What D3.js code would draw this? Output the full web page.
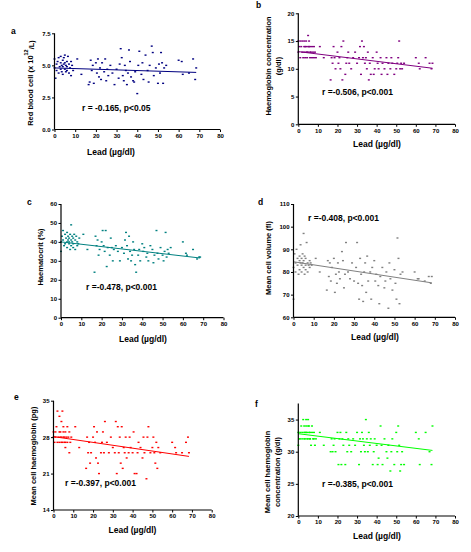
<!DOCTYPE html>
<html>
<head>
<meta charset="utf-8">
<script src="https://cdn.jsdelivr.net/npm/d3@7"></script>
<style>
  body { margin: 0; background: #fff; }
  svg { display: block; font-family: "Liberation Sans", Arial, sans-serif; }
  .tick text { font-size: 6px; font-weight: bold; fill: #000; }
  .domain, .tick line { stroke: #000; }
</style>
</head>
<body>
<svg id="fig" width="471" height="552"></svg>
<script>
// lead level of each subject (µg/dl), shared by all six panels
const lead = [
  0, 0, 0.5, 1, 1, 1.5, 2, 2, 2.5, 3, 3, 3, 3.5, 3.5, 4, 4, 4, 4.5, 4.5, 5, 5, 5, 5.5, 5.5, 6, 6, 6, 6.5, 7, 7, 7.5, 8, 8, 8.5, 9, 11,
  13, 16.5, 17, 17.5, 18, 18.5, 19, 20, 20.5, 21, 21.5, 22, 22.5, 23, 24, 24.5, 25, 25.5, 26, 27,
  28, 29, 30, 31, 31.5, 32, 32.5, 33, 33.5, 34, 34.5, 35, 35.5, 36, 36.5, 37, 38, 38.5, 39, 40,
  40.5, 41, 42, 42.5, 43, 44, 45, 45.5, 46, 47, 47.5, 48, 49, 50, 50.5, 51, 51.5, 52, 52.5, 53, 54,
  60, 61.5, 62, 65, 67, 68, 68.5
]

const rbc = [
  5.5, 4.8, 4.0, 5.1, 4.6, 5.3, 5.6, 4.4, 4.9, 5.2, 4.7, 5.7, 4.5, 5.0, 5.4, 4.9, 4.3, 5.6, 5.1, 4.7, 5.2, 5.8, 4.5, 5.0, 5.3, 4.6, 4.9, 5.7, 5.1, 4.4, 4.8, 4.2, 5.3, 5.0, 4.6, 5.5,
  4.3, 3.5, 3.7, 5.4, 4.6, 5.0, 3.6, 5.2, 4.4, 5.5, 4.1, 4.8, 3.9, 5.2, 4.5, 5.5, 3.8, 4.7, 4.2, 5.0,
  4.4, 3.5, 4.7, 4.0, 5.1, 6.3, 5.6, 4.2, 3.8, 5.0, 4.6, 3.5, 4.4, 6.2, 5.3, 4.1, 3.8, 3.7, 4.5, 2.8,
  5.0, 6.1, 4.3, 5.2, 3.9, 5.8, 4.6, 3.7, 5.0, 6.5, 6.0, 4.2, 4.8, 3.6, 5.1, 4.4, 6.0, 5.2, 3.6, 4.8, 5.0,
  5.4, 5.3, 4.3, 4.4, 5.5, 3.9, 4.8
]

const hb = [
  13, 15, 14, 12, 15, 14, 13, 15, 12, 14, 13, 15, 14, 12, 13, 15, 14, 13, 12, 14, 16, 13, 15, 14, 12, 13, 14, 13, 12, 14, 13, 12, 14, 13, 12, 14,
  12, 8, 12, 11, 14, 12, 10, 13, 11, 12, 10, 14, 8, 15, 9, 11, 12, 13, 11, 10,
  12, 13, 11, 12, 14, 9, 15, 12, 14, 11, 12, 10, 13, 8, 11, 9, 12, 9, 10, 13,
  11, 10, 12, 9, 11, 10, 12, 9, 11, 10, 12, 11, 9, 10, 11, 12, 15, 10, 11, 10, 11,
  12, 11, 10, 12, 11, 10, 11
]

const hct = [
  40, 35, 43, 46, 41, 38, 44, 39, 42, 40, 37, 45, 41, 43, 39, 42, 40, 36, 44, 41, 49, 38, 43, 40, 37, 42, 39, 44, 36, 41, 43, 38, 40, 39, 42, 44,
  36, 24, 43, 38, 41, 33, 36, 40, 46, 38, 35, 46, 27, 37, 33, 42, 37, 30, 36, 38,
  35, 30, 37, 34, 41, 45, 38, 31, 43, 35, 30, 33, 40, 36, 28, 24, 33, 36, 30, 39,
  35, 37, 32, 34, 30, 38, 36, 29, 33, 46, 34, 31, 37, 33, 30, 35, 45, 32, 36, 34, 37,
  40, 34, 33, 36, 31, 32, 32
]

const mcv = [
  82, 68, 88, 84, 80, 90, 86, 83, 79, 85, 87, 81, 84, 92, 83, 86, 80, 84, 88, 82, 97, 85, 79, 87, 83, 86, 81, 93, 84, 80, 83, 85, 82, 84, 83, 86,
  80, 72, 85, 78, 84, 76, 82, 86, 71, 79, 75, 84, 80, 77, 89, 85, 73, 79, 93, 80,
  77, 84, 76, 82, 93, 75, 68, 86, 79, 74, 67, 80, 84, 71, 87, 76, 80, 68, 82, 85,
  76, 79, 74, 66, 78, 82, 73, 76, 80, 64, 84, 77, 72, 81, 75, 68, 95, 86, 66, 79, 80,
  80, 77, 77, 76, 78, 75, 78
]

const mch = [
  28, 29, 27, 29, 28, 30, 27, 33, 28, 29, 27, 32, 28, 29, 31, 27, 28, 33, 27, 28, 29, 30, 27, 28, 26, 29, 27, 28, 30, 27, 28, 29, 25, 27, 28, 30,
  26, 22, 28, 25, 27, 23, 25, 28, 30, 27, 24, 29, 23, 21, 25, 27, 29, 25, 31, 27,
  25, 28, 26, 25, 31, 21, 30, 25, 28, 23, 30, 22, 26, 25, 28, 24, 25, 28, 26, 25,
  29, 21, 21, 25, 27, 26, 24, 28, 25, 20, 28, 30, 25, 26, 28, 25, 23, 27, 22, 26, 25,
  27, 26, 25, 25, 27, 28, 25
]

const mchc = [
  33, 31, 32, 33, 32, 34, 33, 32, 35, 33, 32, 34, 33, 32, 35, 34, 33, 32, 33, 34, 35, 32, 33, 34, 32, 33, 32, 31, 33, 34, 32, 33, 32, 31, 32, 33,
  31, 30, 32, 30, 31, 32, 30, 33, 28, 32, 33, 28, 32, 31, 28, 33, 30, 32, 31, 30,
  32, 31, 33, 28, 32, 30, 33, 32, 31, 30, 35, 32, 30, 33, 31, 32, 28, 30, 32, 31,
  28, 29, 34, 31, 28, 32, 30, 29, 31, 27, 30, 32, 28, 33, 30, 34, 31, 27, 28, 30, 28,
  33, 32, 28, 33, 30, 28, 34
]

const series = [rbc, hb, hct, mcv, mch, mchc]
const letters = ['a', 'b', 'c', 'd', 'e', 'f']
const colours = ['#000080', '#800080', '#008080', '#808080', '#ff0000', '#00ff00']
const yDomains = [[0, 7.5], [0, 20], [0, 60], [60, 110], [14, 35], [20, 37.5]]
const yTicks = [
  [0, 2.5, 5, 7.5],
  [0, 5, 10, 15, 20],
  [0, 10, 20, 30, 40, 50, 60],
  [60, 70, 80, 90, 100, 110],
  [14, 21, 28, 35],
  [20, 25, 30, 35]
]
const yFormats = ['.1f', 'd', 'd', 'd', 'd', 'd']
const xTicks = [0, 10, 20, 30, 40, 50, 60, 70, 80]
// regression line, value at lead 0 and at the highest lead
const fits = [[4.8, 4.45], [13.1, 10.1], [40, 31.5], [84.5, 75.2], [28.1, 24.3], [32.8, 30.2]]
const notes = [
  'r = -0.165, p<0.05',
  'r =-0.506, p<0.001',
  'r =-0.478, p<0.001',
  'r =-0.408, p<0.001',
  'r =-0.397, p<0.001',
  'r =-0.385, p<0.001'
]
const yTitles = [
  null, // drawn with superscript below
  ['Haemoglobin concentration', '(g/dl)'],
  ['Haematocrit (%)'],
  ['Mean cell volume (fl)'],
  ['Mean cell haemoglobin (pg)'],
  ['Mean cell haemoglobin', 'concentration (g/dl)']
]

// where each panel sits on the page
const layout = [
  { x0: 54.5, x1: 220, top: 33.3, bot: 129.5, ytx: [30], yty: 83, xtx: 111, xty: 152, lx: 11, ly: 34, nx: 82, ny: 108.5 },
  { x0: 298.3, x1: 455, top: 13.3, bot: 124.3, ytx: [268, 278], yty: 66, xtx: 377, xty: 144, lx: 256, ly: 8, nx: 322, ny: 92.5 },
  { x0: 61, x1: 223.5, top: 204, bot: 317.7, ytx: [40], yty: 257, xtx: 143, xty: 339.5, lx: 27, ly: 205, nx: 86, ny: 287 },
  { x0: 293.5, x1: 455, top: 204, bot: 317.3, ytx: [268.3], yty: 258, xtx: 375, xty: 337, lx: 258, ly: 205, nx: 308, ny: 218 },
  { x0: 53.5, x1: 211.7, top: 400.7, bot: 510, ytx: [33], yty: 456, xtx: 132.5, xty: 530, lx: 14, ly: 400, nx: 65, ny: 483 },
  { x0: 298.3, x1: 455, top: 403.5, bot: 516, ytx: [267.3, 277.7], yty: 472, xtx: 377, xty: 536, lx: 255, ly: 407, nx: 322, ny: 484.5 }
]

const svg = d3.select('#fig')
const maxLead = d3.max(lead)

series.forEach((vals, i) => {
	const L = layout[i]
	const x = d3.scaleLinear().domain([0, 80]).range([L.x0, L.x1])
	const y = d3.scaleLinear().domain(yDomains[i]).range([L.bot, L.top])
	const g = svg.append('g')

	// points
	g.append('g')
		.attr('fill', colours[i])
		.selectAll('rect')
		.data(vals)
		.join('rect')
		.attr('x', (d, j) => x(lead[j]) - 1)
		.attr('y', d => y(d) - 0.7)
		.attr('width', 2)
		.attr('height', 1.4)

	// fitted line
	g.append('line')
		.attr('x1', x(0)).attr('y1', y(fits[i][0]))
		.attr('x2', x(maxLead)).attr('y2', y(fits[i][1]))
		.attr('stroke', colours[i])
		.attr('stroke-width', 1)

	// axes
	g.append('g')
		.attr('transform', `translate(0,${L.bot})`)
		.call(d3.axisBottom(x).tickValues(xTicks).tickFormat(d3.format('d')).tickSize(2.5).tickPadding(1.5))
		.call(a => a.select('.domain').attr('stroke-width', 1.2).attr('d', `M${L.x0},0H${L.x1}`))
	g.append('g')
		.attr('transform', `translate(${L.x0},0)`)
		.call(d3.axisLeft(y).tickValues(yTicks[i]).tickFormat(d3.format(yFormats[i])).tickSize(2.5).tickPadding(1.5))
		.call(a => a.select('.domain').attr('stroke-width', 1.2).attr('d', `M0,${L.top}V${L.bot}`))
	g.selectAll('.tick line').attr('stroke-width', 1)

	// x title
	g.append('text')
		.attr('x', L.xtx).attr('y', L.xty).attr('dy', '0.35em')
		.attr('text-anchor', 'middle')
		.attr('font-size', 8.5).attr('font-weight', 'bold')
		.text('Lead (µg/dl)')

	// y title
	if (yTitles[i]) {
		yTitles[i].forEach((t, k) => {
			g.append('text')
				.attr('transform', `translate(${L.ytx[k]},${L.yty}) rotate(-90)`)
				.attr('dy', '0.35em')
				.attr('text-anchor', 'middle')
				.attr('font-size', 7.5).attr('font-weight', 'bold')
				.text(t)
		})
	} else {
		const t = g.append('text')
			.attr('transform', `translate(${L.ytx[0]},${L.yty}) rotate(-90)`)
			.attr('dy', '0.35em')
			.attr('text-anchor', 'middle')
			.attr('font-size', 7.5).attr('font-weight', 'bold')
		t.append('tspan').text('Red blood cell (x 10')
		t.append('tspan').attr('font-size', 5.5).attr('dy', '-0.9em').text('12')
		t.append('tspan').attr('dy', '0.9em').text('/L)')
	}

	// panel letter
	g.append('text')
		.attr('x', L.lx).attr('y', L.ly)
		.attr('font-size', 8.5).attr('font-weight', 'bold')
		.text(letters[i])

	// correlation note
	g.append('text')
		.attr('x', L.nx).attr('y', L.ny).attr('dy', '0.35em')
		.attr('font-size', 8.5).attr('font-weight', 'bold')
		.text(notes[i])
})
</script>
</body>
</html>
